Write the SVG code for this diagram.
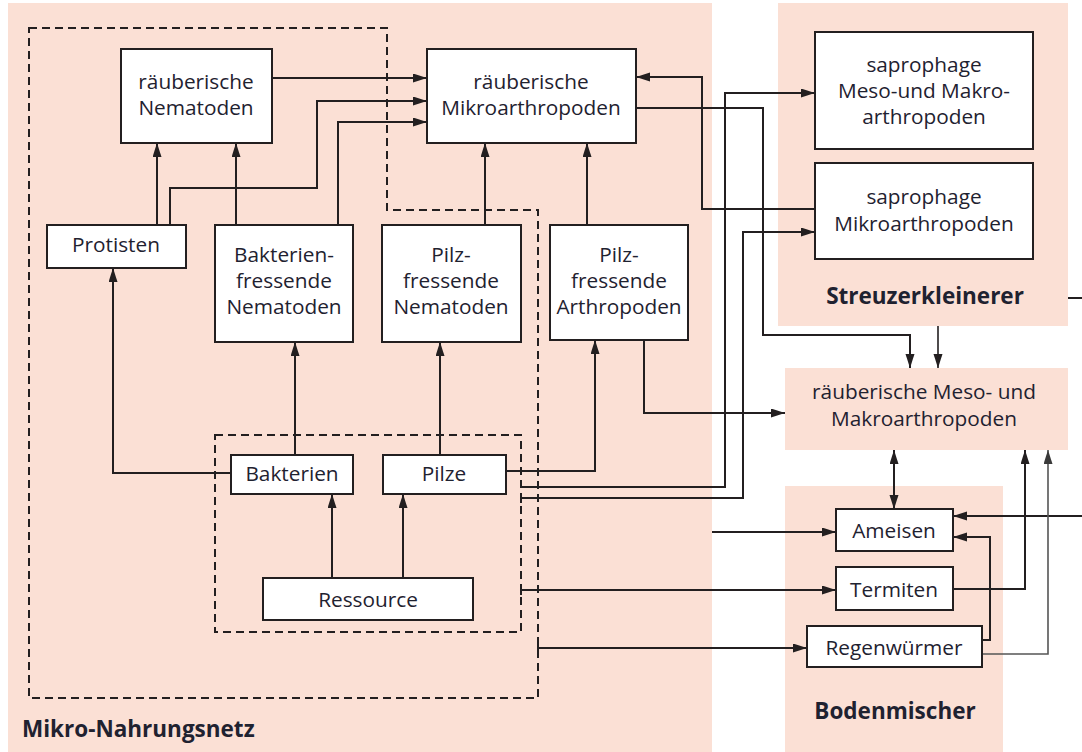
<svg xmlns="http://www.w3.org/2000/svg" width="1082" height="752" viewBox="0 0 1082 752">
<defs>
<marker id="ah" markerUnits="userSpaceOnUse" markerWidth="15" markerHeight="10" refX="14" refY="4.5" orient="auto-start-reverse" viewBox="0 0 15 10">
<path d="M0,0 L14,4.5 L0,9 z" fill="#231f20"/>
</marker>
<marker id="ahg" markerUnits="userSpaceOnUse" markerWidth="15" markerHeight="10" refX="14" refY="4.5" orient="auto" viewBox="0 0 15 10">
<path d="M0,0 L14,4.5 L0,9 z" fill="#3a3a3a"/>
</marker>
<style>
.panel{fill:#fbe0d5;stroke:none}
.box{fill:#ffffff;stroke:#231f20;stroke-width:2}
.dash{fill:none;stroke:#231f20;stroke-width:2;stroke-dasharray:8 5}
.c{fill:none;stroke:#231f20;stroke-width:2}
.ca{fill:none;stroke:#231f20;stroke-width:2;marker-end:url(#ah)}
.t{font-family:"Open Sans","Liberation Sans",sans-serif;font-size:20.8px;fill:#1f2230;text-anchor:middle}
.lb{font-family:"Open Sans","Liberation Sans",sans-serif;font-size:22.5px;font-weight:700;fill:#1f2230}
</style>
</defs>
<g id="panels">
<rect class="panel" x="8" y="3" width="704" height="749"/>
<rect class="panel" x="778" y="3" width="290" height="323"/>
<rect class="panel" x="785" y="368" width="283" height="82"/>
<rect class="panel" x="785" y="486" width="218" height="266"/>
</g>
<g id="groups">
<path class="dash" d="M29,28 H387 V210 H538 V698 H29 Z"/>
<rect class="dash" x="215" y="435" width="306" height="197"/>
<text class="lb" x="22" y="737">Mikro-Nahrungsnetz</text>
<text class="lb" x="925" y="304" text-anchor="middle">Streuzerkleinerer</text>
<text class="lb" x="895" y="719" text-anchor="middle">Bodenmischer</text>
</g>
<g id="connectors">
<path class="ca" d="M272,78 H427"/>
<path class="ca" d="M170,225 V188 H317 V101 H427"/>
<path class="ca" d="M338,225 V122 H427"/>
<path class="ca" d="M157,225 V143"/>
<path class="ca" d="M236,225 V143"/>
<path class="ca" d="M485,225 V143"/>
<path class="ca" d="M587,225 V143"/>
<path class="ca" d="M231,473 H113 V268"/>
<path class="ca" d="M295,455 V342"/>
<path class="ca" d="M440,455 V342"/>
<path class="ca" d="M332,578 V494"/>
<path class="ca" d="M403,578 V494"/>
<path class="ca" d="M506,471 H595 V340"/>
<path class="ca" d="M644,340 V413 H785"/>
<path class="ca" d="M521,487 H725 V93 H815"/>
<path class="ca" d="M521,498 H743 V232 H815"/>
<path class="c" d="M521,493 V503"/>
<path class="ca" d="M636,108 H763 V335 H910 V368"/>
<path class="ca" d="M815,209 H702 V77 H636"/>
<path class="ca" d="M938,326 V368" style="stroke-width:1.6"/>
<path class="c" d="M1068,298 H1082"/>
<path class="ca" d="M894,450 V509" style="marker-start:url(#ah)"/>
<path class="ca" d="M1082,516 H953"/>
<path class="ca" d="M982,640 H990 V537 H953"/>
<path class="ca" d="M712,532 H836"/>
<path class="ca" d="M521,590 H836"/>
<path class="c" d="M521,585 V595"/>
<path class="ca" d="M538,648 H807"/>
<path class="c" d="M538,643 V653"/>
<path class="ca" d="M953,589 H1025 V450"/>
<path d="M982,654 H1048 V450" fill="none" stroke="#555555" stroke-width="1.6" marker-end="url(#ahg)"/>
</g>
<g id="n-raeub-nematoden">
<rect class="box" x="121" y="49" width="151" height="94"/>
<text class="t" x="196" y="89">räuberische</text>
<text class="t" x="196" y="115">Nematoden</text>
</g>
<g id="n-raeub-mikroarthropoden">
<rect class="box" x="427" y="49" width="209" height="94"/>
<text class="t" x="531" y="89">räuberische</text>
<text class="t" x="531" y="115">Mikroarthropoden</text>
</g>
<g id="n-protisten">
<rect class="box" x="47" y="225" width="139" height="43"/>
<text class="t" x="116" y="252">Protisten</text>
</g>
<g id="n-bakt-nematoden">
<rect class="box" x="215" y="225" width="138" height="117"/>
<text class="t" x="284" y="262">Bakterien-</text>
<text class="t" x="284" y="288">fressende</text>
<text class="t" x="284" y="314">Nematoden</text>
</g>
<g id="n-pilz-nematoden">
<rect class="box" x="382" y="225" width="139" height="117"/>
<text class="t" x="451" y="262">Pilz-</text>
<text class="t" x="451" y="288">fressende</text>
<text class="t" x="451" y="314">Nematoden</text>
</g>
<g id="n-pilz-arthropoden">
<rect class="box" x="550" y="225" width="138" height="115"/>
<text class="t" x="619" y="262">Pilz-</text>
<text class="t" x="619" y="288">fressende</text>
<text class="t" x="619" y="314">Arthropoden</text>
</g>
<g id="n-bakterien">
<rect class="box" x="231" y="455" width="122" height="39"/>
<text class="t" x="292" y="481">Bakterien</text>
</g>
<g id="n-pilze">
<rect class="box" x="383" y="455" width="123" height="39"/>
<text class="t" x="444" y="481">Pilze</text>
</g>
<g id="n-ressource">
<rect class="box" x="263" y="578" width="210" height="42"/>
<text class="t" x="368" y="607">Ressource</text>
</g>
<g id="n-sapro-meso">
<rect class="box" x="815" y="32" width="218" height="117"/>
<text class="t" x="924" y="72">saprophage</text>
<text class="t" x="924" y="98">Meso-und Makro-</text>
<text class="t" x="924" y="124">arthropoden</text>
</g>
<g id="n-sapro-mikro">
<rect class="box" x="815" y="163" width="218" height="96"/>
<text class="t" x="924" y="204">saprophage</text>
<text class="t" x="924" y="231">Mikroarthropoden</text>
</g>
<g id="n-raeub-meso">
<text class="t" x="924" y="399">räuberische Meso- und</text>
<text class="t" x="924" y="426">Makroarthropoden</text>
</g>
<g id="n-ameisen">
<rect class="box" x="836" y="509" width="117" height="42"/>
<text class="t" x="894" y="538">Ameisen</text>
</g>
<g id="n-termiten">
<rect class="box" x="836" y="567" width="117" height="43"/>
<text class="t" x="894" y="597">Termiten</text>
</g>
<g id="n-regenwuermer">
<rect class="box" x="807" y="626" width="175" height="41"/>
<text class="t" x="894" y="655">Regenwürmer</text>
</g>
</svg>
